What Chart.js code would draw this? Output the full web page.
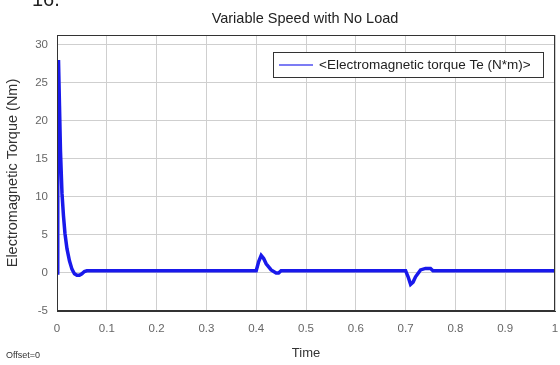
<!DOCTYPE html>
<html>
<head>
<meta charset="utf-8">
<script src="https://cdn.jsdelivr.net/npm/chart.js@4"></script>
<style>
  html, body { margin: 0; padding: 0; background: #fff; }
  #wrap { width: 560px; height: 365px; position: relative; }
</style>
</head>
<body>
<div id="wrap"><canvas id="torqueChart" width="560" height="365"></canvas></div>
<script>
// temps (s) et couple (N*m)
const timeValues = [0, 0.001, 0.002, 0.003, 0.005, 0.007, 0.01, 0.013, 0.016, 0.02, 0.025, 0.03,
  0.035, 0.04, 0.045, 0.05, 0.055, 0.06, 0.1, 0.2, 0.3, 0.4, 0.405, 0.41, 0.415, 0.42, 0.43,
  0.44, 0.445, 0.45, 0.5, 0.6, 0.7, 0.705, 0.71, 0.715, 0.72, 0.73, 0.74, 0.75, 0.755, 0.76, 0.8, 0.9, 1];
const torqueValues = [0, 14, 26, 28, 22, 16, 10.5, 7.5, 5.2, 3.2, 1.6, 0.5,
  -0.1, -0.3, -0.3, -0.1, 0.2, 0.3, 0.3, 0.3, 0.3, 0.3, 1.5, 2.3, 1.9, 1.2, 0.4,
  0.0, 0.0, 0.3, 0.3, 0.3, 0.3, -0.5, -1.5, -1.2, -0.5, 0.4, 0.6, 0.6, 0.3, 0.3, 0.3, 0.3, 0.3];
const xTicks = [0, 0.1, 0.2, 0.3, 0.4, 0.5, 0.6, 0.7, 0.8, 0.9, 1];
const yTicks = [-5, 0, 5, 10, 15, 20, 25, 30];
const seriesLabel = '<Electromagnetic torque Te (N*m)>';

const points = timeValues.map((t, i) => ({ x: t, y: torqueValues[i] }));

const ctx = document.getElementById('torqueChart').getContext('2d');

new Chart(ctx, {
  type: 'line',
  data: {
    datasets: [{
      label: seriesLabel,
      data: points,
      borderColor: 'rgb(25, 25, 235)',
      borderWidth: 3.5,
      pointRadius: 0,
      tension: 0,
      fill: false
    }]
  },
  options: {
    responsive: false,
    animation: false,
    layout: { padding: { top: 35, right: 5, left: 0, bottom: 0 } },
    scales: {
      x: {
        type: 'linear',
        min: 0,
        max: 1,
        afterBuildTicks: (scale) => { scale.ticks = xTicks.map(v => ({ value: v })); },
        afterFit: (scale) => { scale.height = 54; scale.paddingRight = 0; scale.paddingLeft = 0; },
        grid: { color: '#cfcfcf', lineWidth: 1, tickLength: 0 },
        border: { color: '#333', width: 1 },
        ticks: {
          padding: 11,
          color: '#666',
          font: { family: 'Liberation Sans', size: 11.5 },
          maxRotation: 0,
          callback: (v) => String(v)
        },
        title: {
          display: true,
          text: 'Time',
          color: '#333',
          padding: { top: 2 },
          font: { family: 'Liberation Sans', size: 13 }
        }
      },
      y: {
        min: -5,
        max: 31.3,
        afterBuildTicks: (scale) => { scale.ticks = yTicks.map(v => ({ value: v })); },
        afterFit: (scale) => { scale.width = 57; },
        grid: { color: '#cfcfcf', lineWidth: 1, tickLength: 0 },
        border: { color: '#333', width: 1 },
        ticks: {
          padding: 9,
          color: '#666',
          font: { family: 'Liberation Sans', size: 11.5 }
        },
        title: {
          display: true,
          text: 'Electromagnetic Torque (Nm)',
          color: '#333',
          padding: { bottom: 1 },
          font: { family: 'Liberation Sans', size: 14.5 }
        }
      }
    },
    plugins: {
      legend: { display: false },
      tooltip: { enabled: false }
    }
  },
  plugins: [
    {
      id: 'matlabDecor',
      afterDraw: (chart) => {
        const { ctx, chartArea: { top, bottom, left, right } } = chart;
        ctx.save();
        // cadre des axes
        ctx.strokeStyle = '#333';
        ctx.lineWidth = 1;
        ctx.strokeRect(left + 0.5, top + 0.5, right - left - 1, bottom - top - 1);

        // titre
        ctx.fillStyle = '#222';
        ctx.font = '14.5px "Liberation Sans"';
        ctx.textAlign = 'center';
        ctx.textBaseline = 'middle';
        ctx.fillText('Variable Speed with No Load', 305, 19);

        // fragment de légende de figure coupé en haut
        ctx.font = '20px "Liberation Sans"';
        ctx.textAlign = 'left';
        ctx.fillText('16.', 32, 0);

        // Offset=0
        ctx.font = '9px "Liberation Sans"';
        ctx.fillStyle = '#333';
        ctx.fillText('Offset=0', 6, 356);

        // légende
        const bx = 273, by = 52, bw = 270, bh = 25;
        ctx.fillStyle = '#fff';
        ctx.fillRect(bx, by, bw, bh);
        ctx.strokeStyle = '#333';
        ctx.strokeRect(bx + 0.5, by + 0.5, bw, bh);
        ctx.strokeStyle = 'rgb(80, 80, 240)';
        ctx.lineWidth = 1.5;
        ctx.beginPath();
        ctx.moveTo(279, by + bh / 2 + 0.5);
        ctx.lineTo(313, by + bh / 2 + 0.5);
        ctx.stroke();
        ctx.fillStyle = '#222';
        ctx.font = '13.5px "Liberation Sans"';
        ctx.fillText(chart.data.datasets[0].label, 319, by + bh / 2 + 1);
        ctx.restore();
      }
    }
  ]
});
</script>
</body>
</html>
